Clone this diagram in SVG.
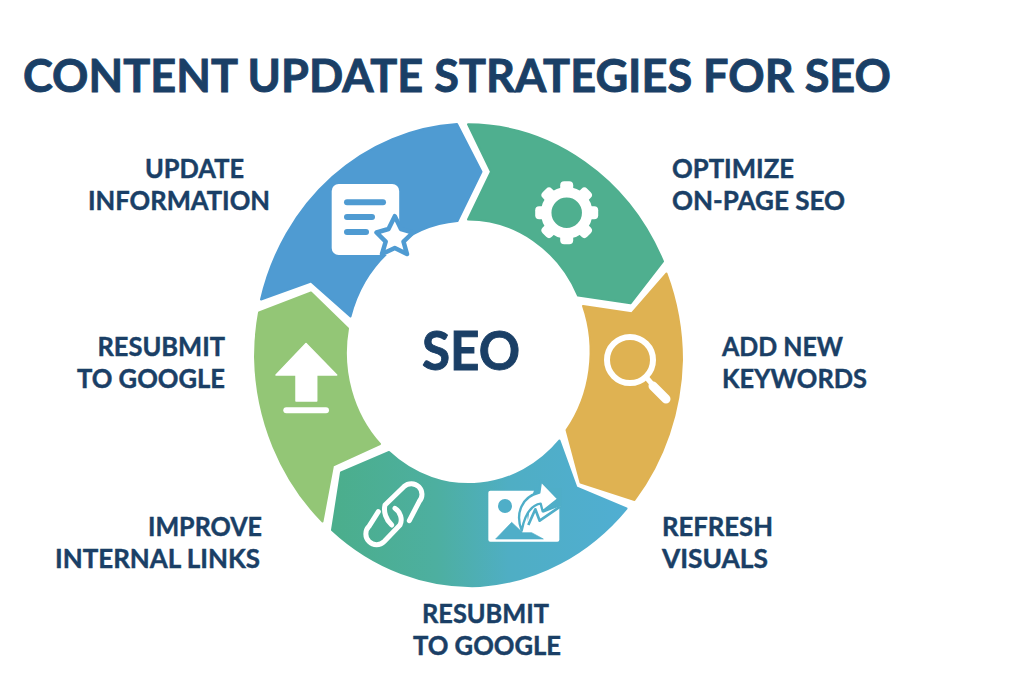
<svg xmlns="http://www.w3.org/2000/svg" width="1024" height="683" viewBox="0 0 1024 683">
<style>
text{font-family:"Lato","Liberation Sans",sans-serif;fill:#1A3F66;stroke:#1A3F66;stroke-width:.45px;font-weight:700;font-size:26.5px}
.title{font-size:46px;font-weight:700;stroke-width:.9px}
.center{font-size:53px;font-weight:700;stroke-width:.9px}
.seg{stroke-width:2;stroke-linejoin:round}
.w{fill:#fff}
.ws{fill:none;stroke:#fff;stroke-linecap:round;stroke-linejoin:round}
</style>
<defs>
<linearGradient id="grad" gradientUnits="userSpaceOnUse" x1="335" y1="0" x2="625" y2="0">
<stop offset="0" stop-color="#4BAE8C"/><stop offset="0.35" stop-color="#4DAFA0"/><stop offset="0.6" stop-color="#4FAEC4"/><stop offset="1" stop-color="#50AED2"/>
</linearGradient>
<rect id="tooth" x="-6.5" y="-31.5" width="13" height="12" rx="4" fill="#fff"/>
</defs>
<rect width="1024" height="683" fill="#fff"/>
<text class="title" x="23" y="92" textLength="868" lengthAdjust="spacingAndGlyphs">CONTENT UPDATE STRATEGIES FOR SEO</text>

<g id="node-update-information">
<path class="seg" fill="#4F9BD2" stroke="#4F9BD2" d="M261 299.5A215 232 0 0 1 457 124L481.5 171.7L457.5 221A121 131 0 0 0 350.5 316.5L311 281.5Z"/>
<rect class="w" x="331.7" y="184" width="67.5" height="71" rx="7"/>
<g fill="#4F9BD2"><rect x="344" y="199.3" width="42" height="6" rx="3"/><rect x="344" y="214" width="31" height="6" rx="3"/><rect x="344" y="229" width="25" height="6" rx="3"/></g>
<path d="M394.8 216.2L401 229L413 232.5L403.5 241.7L407 254L394.8 248L382 254L385.7 241.7L376.5 232.5L388.5 229Z" fill="#fff" stroke="#4F9BD2" stroke-width="4.5" stroke-linejoin="round"/>
<text x="145" y="177.5" textLength="99" lengthAdjust="spacingAndGlyphs">UPDATE</text>
<text x="88" y="210" textLength="182" lengthAdjust="spacingAndGlyphs">INFORMATION</text>
</g>

<g id="node-optimize">
<path class="seg" fill="#4FAF8F" stroke="#4FAF8F" d="M468 124.3A215 232 0 0 1 663 261.5L630.5 303.3L578 295.5A121 131 0 0 0 468 219.5L491 171.7Z"/>
<circle cx="566.7" cy="212.7" r="20.5" fill="none" stroke="#fff" stroke-width="10.5"/>
<g transform="translate(566.7 212.7)"><use href="#tooth"/><use href="#tooth" transform="rotate(45)"/><use href="#tooth" transform="rotate(90)"/><use href="#tooth" transform="rotate(135)"/><use href="#tooth" transform="rotate(180)"/><use href="#tooth" transform="rotate(225)"/><use href="#tooth" transform="rotate(270)"/><use href="#tooth" transform="rotate(315)"/></g>
<text x="672" y="177.5" textLength="122" lengthAdjust="spacingAndGlyphs">OPTIMIZE</text>
<text x="672" y="210" textLength="173" lengthAdjust="spacingAndGlyphs">ON-PAGE SEO</text>
</g>

<g id="node-keywords">
<path class="seg" fill="#DFB252" stroke="#DFB252" d="M666.5 273.5A215 232 0 0 1 682 360A215 232 0 0 1 634.5 500L580.5 482.5L566.5 430A121 131 0 0 0 583 306L631.7 313.3Z"/>
<circle cx="630" cy="360" r="23" fill="none" stroke="#fff" stroke-width="6"/>
<path class="ws" d="M646 377L652 384" stroke-width="5"/>
<path class="ws" d="M653 386L666 399" stroke-width="9"/>
<text x="722" y="356" textLength="121" lengthAdjust="spacingAndGlyphs">ADD NEW</text>
<text x="722" y="388" textLength="145" lengthAdjust="spacingAndGlyphs">KEYWORDS</text>
</g>

<g id="node-visuals-links">
<path class="seg" fill="url(#grad)" stroke="url(#grad)" d="M559.5 440.5L576.5 487.5L626.5 508.5A215 232 0 0 1 480 586A215 232 0 0 1 332 530L341 472.5L389 452A121 131 0 0 0 480 483.5A121 131 0 0 0 559.5 440.5Z"/>
<g transform="translate(480 470) scale(.3333)">
<rect class="w" x="25" y="62" width="213" height="153" rx="6"/>
<circle cx="75" cy="108" r="21" fill="#4FAEC8"/>
<path d="M47 207L95 157L128 188L155 188L190 207Z" fill="#4FAEC8" stroke="#4FAEC8" stroke-width="2" stroke-linejoin="round"/>
<path d="M165 54H245V110L180 150L167 118L145 165L140 120Z" fill="#4FAEC8"/>
<path d="M142 165L165 118L178 152L242 108L190 128L180 100L150 110Z" fill="#fff"/>
<path d="M145 165L166 118L179 152L240 110" fill="none" stroke="#4FAEC8" stroke-width="8" stroke-linejoin="round"/>
<path d="M125 182C105 130 125 80 178 68L183 33L235 87L188 124L182 101C155 105 135 130 125 182Z" fill="#fff" stroke="#4FAEC8" stroke-width="7" stroke-linejoin="round"/>
</g>
<g transform="translate(350 470) scale(.3333)" class="ws" stroke-width="15">
<path d="M178 152L207.6 94.6A32 32 0 0 0 162.4 49.4L105 105C100 125 108 150 125 165"/>
<path d="M85 125L57 169A32 32 0 0 0 102.6 214.6L150 165C158 150 152 125 135 115"/>
</g>
<text x="662" y="535.5" textLength="111" lengthAdjust="spacingAndGlyphs">REFRESH</text>
<text x="662" y="568" textLength="106" lengthAdjust="spacingAndGlyphs">VISUALS</text>
<text x="148" y="535.5" textLength="114" lengthAdjust="spacingAndGlyphs">IMPROVE</text>
<text x="55" y="568" textLength="205" lengthAdjust="spacingAndGlyphs">INTERNAL LINKS</text>
<text x="422" y="623" textLength="127" lengthAdjust="spacingAndGlyphs">RESUBMIT</text>
<text x="413" y="655" textLength="148" lengthAdjust="spacingAndGlyphs">TO GOOGLE</text>
</g>

<g id="node-resubmit">
<path class="seg" fill="#93C676" stroke="#93C676" d="M259 312.5L311 292.5L348 328.5A121 131 0 0 0 380 444L333 465.5L322.5 521.5A215 232 0 0 1 255 357A215 232 0 0 1 259 312.5Z"/>
<path class="w" d="M306 343.5L276 375H296V401H316.7V375H336.7Z" stroke="#fff" stroke-width="1.5" stroke-linejoin="round"/>
<rect class="w" x="283.3" y="407.3" width="45.7" height="6" rx="3"/>
<text x="97.5" y="356" textLength="127.5" lengthAdjust="spacingAndGlyphs">RESUBMIT</text>
<text x="77" y="388" textLength="148" lengthAdjust="spacingAndGlyphs">TO GOOGLE</text>
</g>

<g id="node-center">
<text class="center" x="422" y="370" textLength="98" lengthAdjust="spacingAndGlyphs">SEO</text>
</g>
</svg>
